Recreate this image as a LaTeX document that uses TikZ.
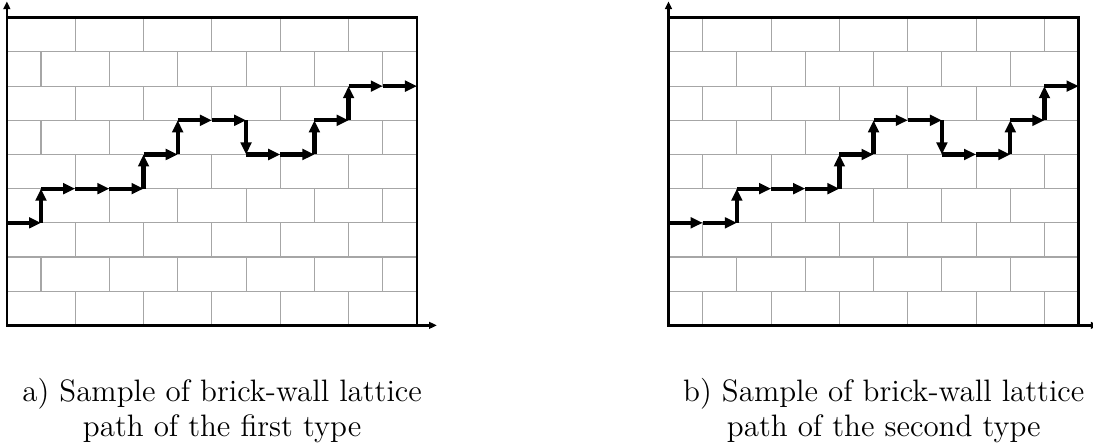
\documentclass[tikz,border=0pt]{standalone}
\usepackage{amsmath}
\usepackage{tikz}
\usetikzlibrary{arrows.meta}

\begin{document}
\begin{tikzpicture}[x=0.5cm,y=0.5cm]
\tikzstyle{pas}=[-{Triangle[length=5pt,width=4.4pt]},line width=1.8pt]
\tikzset{brique/.style={draw=gray!70,line width=0.45pt},
axe/.style={-{Triangle[length=3.2pt,width=2.8pt]},line width=1.1pt},
legende/.style={align=center,font=\fontsize{12.9}{14.6}\selectfont}}
\useasboundingbox (-0.2,-3.57) rectangle (31.78,9.52);

\begin{scope}
\foreach \j in {1,...,8} \draw[brique] (0,\j) -- (12,\j);
\foreach \j in {0,2,...,8} \foreach \i in {2,4,...,10} \draw[brique] (\i,\j) -- (\i,\j+1);
\foreach \j in {1,3,...,7} \foreach \i in {1,3,...,11} \draw[brique] (\i,\j) -- (\i,\j+1);
\draw[line width=1.1pt] (0,0) rectangle (12,9);
\draw[axe] (0,0) -- (0,9.48);
\draw[axe] (0,0) -- (12.58,0);
\foreach \a/\b/\c/\d in {0/3/1/3, 1/3/1/4, 1/4/2/4, 2/4/3/4, 3/4/4/4, 4/4/4/5,
  4/5/5/5, 5/5/5/6, 5/6/6/6, 6/6/7/6, 7/6/7/5, 7/5/8/5, 8/5/9/5, 9/5/9/6,
  9/6/10/6, 10/6/10/7, 10/7/11/7, 11/7/12/7}
  \draw[pas] (\a,\b) -- (\c,\d);
\node[legende] (capA) at (6.3,-2.5) {a) Sample of brick-wall lattice\\path of the first type};
\end{scope}

\begin{scope}[xshift=9.68cm]
\foreach \j in {1,...,8} \draw[brique] (0,\j) -- (12,\j);
\foreach \j in {1,3,...,7} \foreach \i in {2,4,...,10} \draw[brique] (\i,\j) -- (\i,\j+1);
\foreach \j in {0,2,...,8} \foreach \i in {1,3,...,11} \draw[brique] (\i,\j) -- (\i,\j+1);
\draw[line width=1.1pt] (0,0) rectangle (12,9);
\draw[axe] (0,0) -- (0,9.48);
\draw[axe] (0,0) -- (12.58,0);
\foreach \a/\b/\c/\d in {0/3/1/3, 1/3/2/3, 2/3/2/4, 2/4/3/4, 3/4/4/4, 4/4/5/4,
  5/4/5/5, 5/5/6/5, 6/5/6/6, 6/6/7/6, 7/6/8/6, 8/6/8/5, 8/5/9/5, 9/5/10/5,
  10/5/10/6, 10/6/11/6, 11/6/11/7, 11/7/12/7}
  \draw[pas] (\a,\b) -- (\c,\d);
\node[legende] (capB) at (6.3,-2.5) {b) Sample of brick-wall lattice\\path of the second type};
\end{scope}

\end{tikzpicture}
\end{document}
